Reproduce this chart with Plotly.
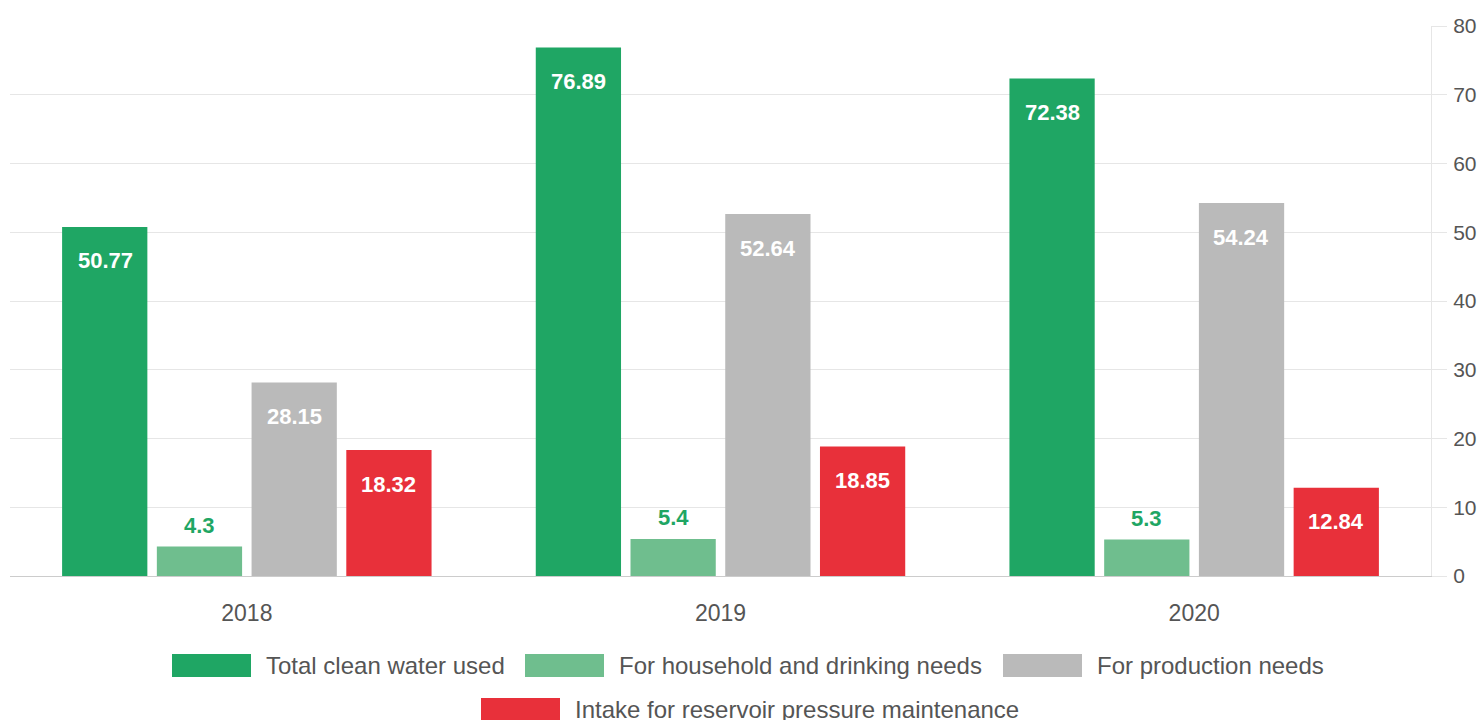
import plotly.graph_objects as go

years = ["2018", "2019", "2020"]
series_names = [
    "Total clean water used",
    "For household and drinking needs",
    "For production needs",
    "Intake for reservoir pressure maintenance",
]
total_clean = [50.77, 76.89, 72.38]
household = [4.3, 5.4, 5.3]
production = [28.15, 52.64, 54.24]
reservoir = [18.32, 18.85, 12.84]
y_ticks = [0, 10, 20, 30, 40, 50, 60, 70, 80]

values = [total_clean, household, production, reservoir]
colors = ["#1fa664", "#6fbe8e", "#bababa", "#e8303a"]
FONT = "Liberation Sans, Arial, Helvetica, sans-serif"

fig = go.Figure()
for name, vals, col in zip(series_names, values, colors):
    fig.add_trace(go.Bar(x=years, y=vals, name=name, marker=dict(color=col, line=dict(width=0)),
                         showlegend=False, hoverinfo="x+y+name"))

# value labels (category index used for annotation position)
slot = 94.5
for i, (vals, col) in enumerate(zip(values, colors)):
    for j, v in enumerate(vals):
        inside = i != 1
        fig.add_annotation(x=j, y=v, xref="x", yref="y", text=f"<b>{v}</b>", showarrow=False,
                           xanchor="center", yanchor="middle",
                           xshift=(i - 1.5) * slot, yshift=-34 if inside else 21,
                           font=dict(family=FONT, size=22, color="white" if inside else colors[0]))

# manual legend
L, R, T, B = 10, 1431, 26, 576
W, H = R - L, B - T
def px(x):
    return (x - L) / W
def py(y):
    return (B - y) / H

legend_items = [
    (0, 172, 654, 264),
    (1, 525, 654, 617),
    (2, 1003, 654, 1095),
    (3, 481, 698, 573),
]
for idx, x0, y0, tx in legend_items:
    fig.add_shape(type="rect", xref="paper", yref="paper", x0=px(x0), x1=px(x0 + 79),
                  y0=py(y0), y1=py(y0 + 23), fillcolor=colors[idx], line=dict(width=0))
    fig.add_annotation(xref="paper", yref="paper", x=px(tx), y=py(y0 + 11.5), text=series_names[idx],
                       showarrow=False, xanchor="left", yanchor="middle",
                       font=dict(family=FONT, size=24, color="#555555"))

fig.update_layout(
    width=1482, height=720,
    margin=dict(l=L, r=1482 - R, t=T, b=720 - B, pad=0),
    paper_bgcolor="white", plot_bgcolor="white",
    barmode="group", bargap=0.2, bargroupgap=0.1,
    font=dict(family=FONT, color="#555555"),
    xaxis=dict(type="category", range=[-0.5, 2.5], showgrid=False,
               tickfont=dict(size=23, color="#555555"), ticks="",
               showline=True, linecolor="#cccccc", linewidth=1, automargin=False,
               ticklabelstandoff=16),
    yaxis=dict(side="right", range=[0, 80], tickvals=y_ticks, showgrid=True, gridcolor="#e6e6e6",
               ticks="outside", ticklen=15, tickcolor="#e6e6e6", showline=True, linecolor="#e6e6e6",
               tickfont=dict(size=21, color="#555555"), zeroline=False, automargin=False,
               ticklabelstandoff=2),
)

fig.write_html("out.html", config={"displayModeBar": False},
               post_script="document.body.style.margin='0';document.body.style.overflow='hidden';")
